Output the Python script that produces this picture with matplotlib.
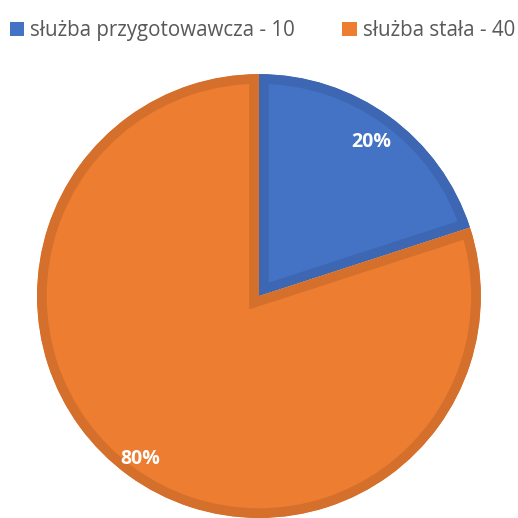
import matplotlib.pyplot as plt
from matplotlib.patches import Patch

labels = ['służba przygotowawcza - 10', 'służba stała - 40']
values = [10, 40]
colors = ['#4472C4', '#ED7D31']
edge_colors = ['#3D67B2', '#D4702B']
label_dist = [0.86, 0.91]

plt.rcParams['font.family'] = ['Open Sans', 'DejaVu Sans']

fig = plt.figure(figsize=(5.18, 5.18), dpi=100)
ax = fig.add_axes([0.0714, 0.0, 0.857, 0.857])

wedges, texts, autotexts = ax.pie(values, colors=colors, startangle=90, counterclock=False,
                                  autopct='%1.0f%%', pctdistance=1.0,
                                  textprops={'color': 'white', 'fontsize': 14, 'fontweight': 'bold'})
# ramka tylko do środka klina
for w, ec in zip(wedges, edge_colors):
    w.set_edgecolor(ec)
    w.set_linewidth(14)
    w.set_clip_on(True)
    w.set_clip_path(w)

for t, d in zip(autotexts, label_dist):
    x, y = t.get_position()
    t.set_position((x * d, y * d))

ax.set_xlim(-1, 1)
ax.set_ylim(-1, 1)
ax.set_aspect('equal')
ax.axis('off')

handles = [Patch(facecolor=c, edgecolor='none') for c in colors]
fig.legend(handles, labels, loc='upper left', bbox_to_anchor=(-0.013, 0.993), ncol=2, frameon=False,
           fontsize=14.8, labelcolor='#595959', handlelength=0.7, handleheight=0.7,
           handletextpad=0.3, columnspacing=2.3, borderaxespad=0.4)

fig.savefig('out.png', dpi=100)
